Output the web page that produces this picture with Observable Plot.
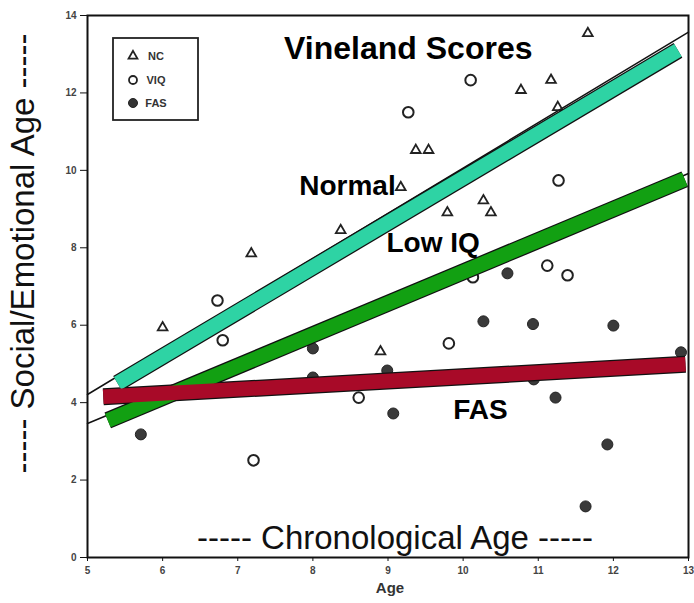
<!DOCTYPE html>
<html><head><meta charset="utf-8">
<script src="https://cdn.jsdelivr.net/npm/d3@7"></script>
<script src="https://cdn.jsdelivr.net/npm/@observablehq/plot@0.6"></script>
<style>body{margin:0;background:#fff;} #chart{width:694px;height:603px;}</style>
</head><body><div id="chart"></div>
<script>
// ---- data ----
const ncX  = [6.00, 7.18, 8.37, 9.17, 9.37, 9.54, 10.77, 11.17, 11.66, 11.26, 9.79, 10.27, 10.37, 8.90];
const ncY  = [5.94, 7.85, 8.45, 9.56, 10.52, 10.52, 12.07, 12.33, 13.54, 11.63, 8.91, 9.22, 8.91, 5.32];
const viqX = [6.73, 6.80, 7.21, 9.27, 10.10, 11.27, 11.12, 11.39, 10.13, 9.81, 8.61];
const viqY = [6.64, 5.61, 2.51, 11.50, 12.33, 9.74, 7.54, 7.29, 7.24, 5.53, 4.13];
const fasX = [5.71, 8.00, 8.00, 10.59, 10.27, 10.93, 12.00, 8.99, 9.07, 11.23, 11.92, 11.63, 12.90, 10.94];
const fasY = [3.18, 5.40, 4.65, 7.34, 6.10, 6.03, 5.99, 4.83, 3.72, 4.13, 2.92, 1.32, 5.30, 4.60];

const fitX = [5, 13];
const normalFitY = [4.21, 13.57];
const lowIqFitY  = [3.46, 9.92];

const bandNames = ["Normal", "Low IQ", "FAS"];
const bandColors = ["#2ed3a4", "#12a012", "#a80a28"];
const bandX = [[5.40, 12.86], [5.27, 12.95], [5.21, 12.96]];
const bandY = [[4.50, 13.10], [3.54, 9.77], [4.15, 4.99]];

const labelText = ["Vineland Scores", "Normal", "Low IQ", "FAS"];
const labelX = [9.27, 8.46, 9.60, 10.23];
const labelY = [13.15, 9.59, 8.11, 3.82];
const labelSize = [32, 28, 28, 28];

const xTicks = [5, 6, 7, 8, 9, 10, 11, 12, 13];
const yTicks = [0, 2, 4, 6, 8, 10, 12, 14];

const legendNames = ["NC", "VIQ", "FAS"];

// ---- build tables ----
const toRows = (xs, ys) => xs.map((x, i) => ({x, y: ys[i]}));
const nc = toRows(ncX, ncY), viq = toRows(viqX, viqY), fas = toRows(fasX, fasY);
const fits = [
  ...fitX.map((x, i) => ({g: "Normal", x, y: normalFitY[i]})),
  ...fitX.map((x, i) => ({g: "Low IQ", x, y: lowIqFitY[i]}))
];
const bands = bandNames.flatMap((g, k) => bandX[k].map((x, i) => ({g, x, y: bandY[k][i], c: bandColors[k]})));
const labels = labelText.map((t, i) => ({t, x: labelX[i], y: labelY[i], s: labelSize[i]}));

const font = "'Liberation Sans', Arial, Helvetica, sans-serif";

const svg = Plot.plot({
  width: 694, height: 603,
  marginLeft: 87, marginRight: 6, marginTop: 15, marginBottom: 46,
  x: {domain: [5, 13]},
  y: {domain: [0, 14]},
  style: {fontFamily: font, background: "#fff", color: "#111"},
  marks: [
    Plot.line(fits, {x: "x", y: "y", z: "g", stroke: "#111", strokeWidth: 1.5}),
    Plot.dot(nc, {x: "x", y: "y", symbol: "triangle", r: 3.6, stroke: "#222", strokeWidth: 1.8, fill: "none"}),
    Plot.dot(viq, {x: "x", y: "y", symbol: "circle", r: 5.3, stroke: "#222", strokeWidth: 2, fill: "none"}),
    Plot.dot(fas, {x: "x", y: "y", symbol: "circle", r: 5.5, stroke: "#222", strokeWidth: 1, fill: "#3a3a3a"}),
    Plot.line(bands, {x: "x", y: "y", z: "g", stroke: "#111", strokeWidth: 17, strokeLinecap: "butt"}),
    Plot.line(bands, {x: "x", y: "y", z: "g", stroke: "c", strokeWidth: 14.5, strokeLinecap: "butt"}),
    Plot.text(labels, {x: "x", y: "y", text: "t", fontSize: "s", fontWeight: "bold", fill: "#000"}),
    Plot.text(["----- Chronological Age -----"], {frameAnchor: "bottom", textAnchor: "middle", lineAnchor: "bottom", dx: 7, dy: -9, fontSize: 33, fill: "#111"}),
    Plot.text(["----- Social/Emotional Age -----"], {frameAnchor: "left", textAnchor: "middle", lineAnchor: "middle", rotate: -90, dx: -64, dy: -33, fontSize: 33, fill: "#111"}),
    Plot.text(["Age"], {frameAnchor: "bottom", textAnchor: "middle", lineAnchor: "bottom", dx: 2, dy: 35, fontSize: 15, fontWeight: "bold", fill: "#333"}),
    Plot.axisX({ticks: xTicks, tickSize: 4, tickPadding: 5, fontSize: 10, fontWeight: "bold", fill: "#444", stroke: "#111", label: null}),
    Plot.axisY({ticks: yTicks, tickSize: 7, tickPadding: 4, fontSize: 10, fontWeight: "bold", fill: "#444", stroke: "#111", label: null}),
    Plot.frame({stroke: "#111", strokeWidth: 2})
  ]
});

// legend box (inside the plot, upper left)
const lg = d3.select(svg).append("g").attr("font-family", font);
lg.append("rect").attr("x", 113).attr("y", 38).attr("width", 85).attr("height", 82)
  .attr("fill", "#fff").attr("stroke", "#222").attr("stroke-width", 1.8);
const symY = [56, 80, 103];
lg.append("path").attr("transform", `translate(133,${symY[0]})`)
  .attr("d", d3.symbol(d3.symbolTriangle, 34)()).attr("fill", "none").attr("stroke", "#222").attr("stroke-width", 1.8);
lg.append("circle").attr("cx", 133).attr("cy", symY[1]).attr("r", 4).attr("fill", "none").attr("stroke", "#222").attr("stroke-width", 1.8);
lg.append("circle").attr("cx", 133).attr("cy", symY[2]).attr("r", 4.5).attr("fill", "#333").attr("stroke", "#222");
legendNames.forEach((n, i) => {
  lg.append("text").attr("x", 156).attr("y", symY[i]).attr("dy", "0.35em")
    .attr("font-size", 11).attr("font-weight", "bold").attr("fill", "#333").text(n);
});

document.getElementById("chart").append(svg);
</script></body></html>
